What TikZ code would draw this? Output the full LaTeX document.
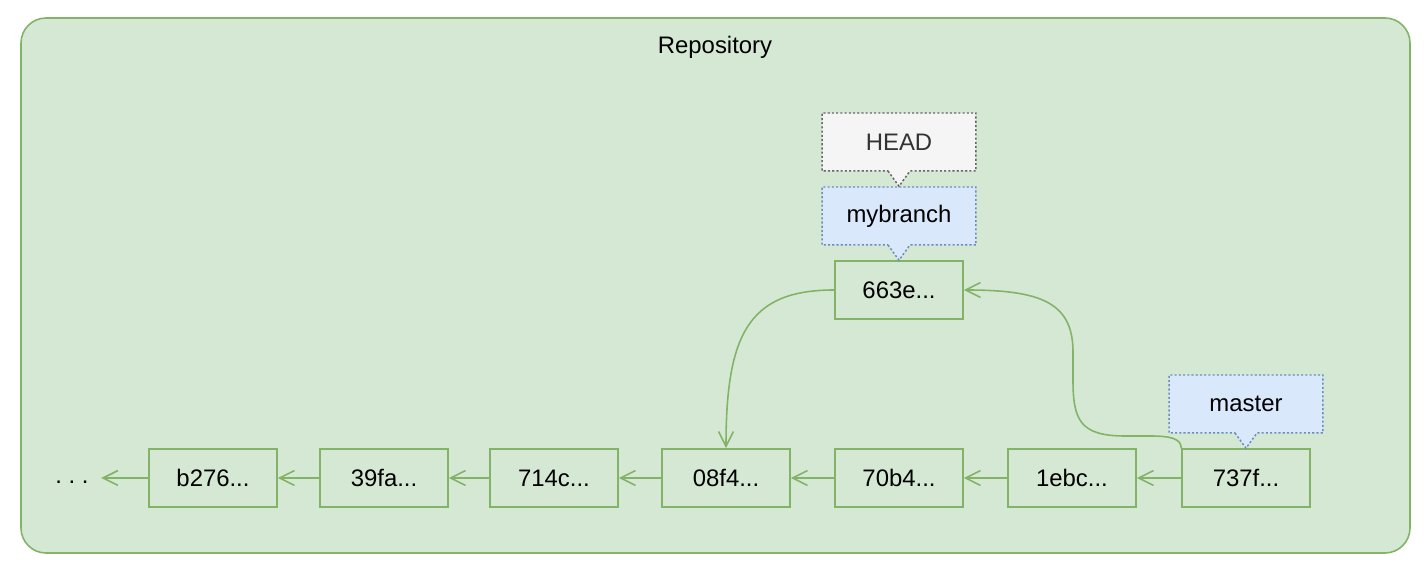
\documentclass[tikz,border=0pt]{standalone}
\usepackage{fontspec}
\setmainfont{Liberation Sans}
\usetikzlibrary{arrows.meta,shapes.callouts}
\definecolor{repofill}{HTML}{D5E8D4}
\definecolor{repoline}{HTML}{82B366}
\definecolor{reffill}{HTML}{DAE8FC}
\definecolor{refline}{HTML}{6C8EBF}
\definecolor{headfill}{HTML}{F5F5F5}
\definecolor{headline}{HTML}{666666}
\definecolor{headtext}{HTML}{333333}
\tikzset{
      commitbox/.style={
        draw=repoline,
        line width=0.9pt,
        minimum width=2.56cm,
        minimum height=1.16cm,
        inner sep=0pt
      },
      refbox/.style={
        rectangle callout,
        draw=refline,
        fill=reffill,
        line width=0.85pt,
        dash pattern=on 1.2pt off 1.2pt,
        callout pointer width=0.44cm,
        minimum width=3.08cm,
        minimum height=1.16cm,
        inner sep=0pt
      },
      headbox/.style={
        refbox,
        draw=headline,
        fill=headfill,
        text=headtext
      },
      link/.style={
        draw=repoline,
        line width=0.9pt,
        -{Straight Barb[length=8.5pt,width=8.5pt]}
      }
    }

\begin{document}
\begin{tikzpicture}[x=0.02cm,y=-0.02cm,font=\fontsize{13.6}{16}\selectfont]
    \useasboundingbox (0,0) rectangle (1428,570);
    \draw[draw=repoline, fill=repofill, line width=0.9pt, rounded corners=0.5cm] (21,18) rectangle (1410,553);
    \node (repo) at (715,47) {Repository};
    \node[inner sep=7pt] (dots) at (72,482) {.\ .\ .};
    \node[commitbox] (c0) at (213,478) {b276...};
    \node[commitbox] (c1) at (384,478) {39fa...};
    \node[commitbox] (c2) at (554,478) {714c...};
    \node[commitbox] (c3) at (726,478) {08f4...};
    \node[commitbox] (c4) at (899,478) {70b4...};
    \node[commitbox] (c5) at (1072,478) {1ebc...};
    \node[commitbox] (c6) at (1246,478) {737f...};
    \node[commitbox] (cb) at (899,290) {663e...};
    \node[refbox, callout absolute pointer={(cb.north)}] (mybranch) at (899,216) {mybranch};
    \node[headbox, callout absolute pointer={(mybranch.north)}] (head) at (899,142) {HEAD};
    \node[refbox, callout absolute pointer={(c6.north)}] (master) at (1246,404) {master};
    \draw[link] (c0.west) -- (dots.east |- c0.west);
    \draw[link] (c1.west) -- (c0.east);
    \draw[link] (c2.west) -- (c1.east);
    \draw[link] (c3.west) -- (c2.east);
    \draw[link] (c4.west) -- (c3.east);
    \draw[link] (c5.west) -- (c4.east);
    \draw[link] (c6.west) -- (c5.east);
    \draw[link] (cb.west) .. controls +(-85,0) and +(0,-115) .. (c3.north);
    \draw[link] (c6.north west) .. controls (1181,439) and (1172,436) .. (1150,436) -- (1125,436)
      .. controls (1080,436) and (1073,420) .. (1073,380) -- (1073,352)
      .. controls (1073,302) and (1040,290) .. (cb.east);
    \end{tikzpicture}
\end{document}
